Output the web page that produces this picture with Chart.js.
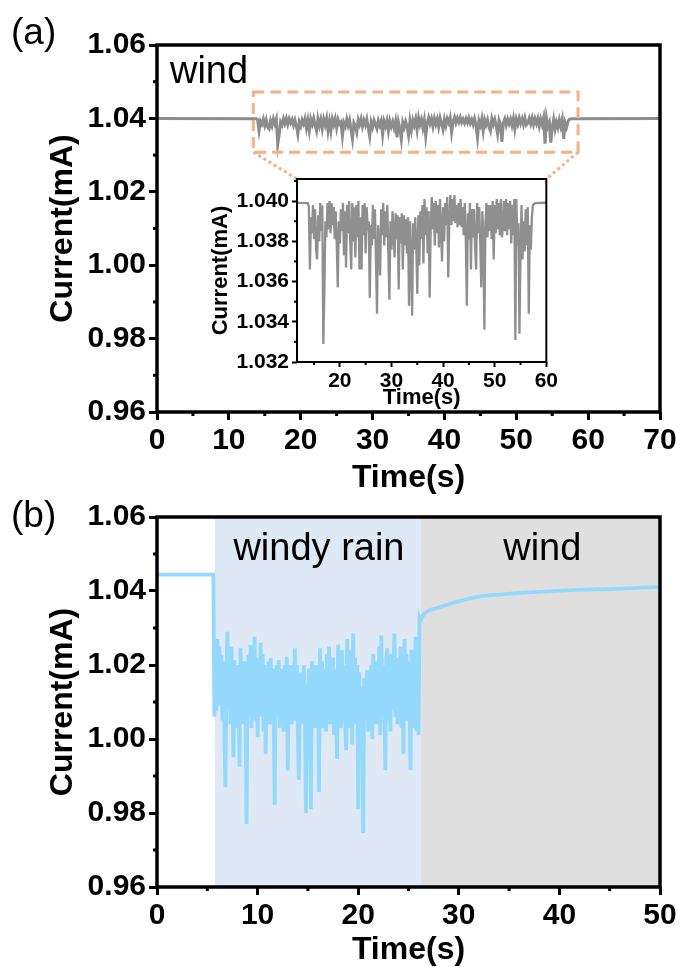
<!DOCTYPE html>
<html>
<head>
<meta charset="utf-8">
<title>Current vs time</title>
<script src="https://cdn.jsdelivr.net/npm/chart.js@4.4.1/dist/chart.umd.min.js"></script>
<style>
  body { margin: 0; background: #fff; }
  #wrap { position: relative; width: 681px; height: 967px; overflow: hidden; }
  canvas { position: absolute; }
  #chartA { left: 0; top: 0; }
  #chartB { left: 0; top: 496px; }
  #inset { left: 200px; top: 160px; }
</style>
</head>
<body>
<div id="wrap">
  <canvas id="chartA" width="681" height="496"></canvas>
  <canvas id="chartB" width="681" height="471"></canvas>
  <canvas id="inset" width="360" height="250"></canvas>
</div>
<script>
// ---------- (a) wind ----------
const aLeadTimes = [0, 13.8];
const aLeadCurrent = [1.0400, 1.0399];
const aNoiseStart = 14.0; // s, first noisy sample
const aNoiseStep = 0.2;   // s between samples
const aNoiseCurrent = [
  1.0397, 1.0366, 1.0392, 1.0384, 1.0398,
  1.0381, 1.0396, 1.0376, 1.0371, 1.0393,
  1.0380, 1.0399, 1.0385, 1.0398, 1.0329,
  1.0355, 1.0390, 1.0382, 1.0399, 1.0386,
  1.0400, 1.0384, 1.0399, 1.0388, 1.0397,
  1.0381, 1.0395, 1.0379, 1.0357, 1.0390,
  1.0379, 1.0396, 1.0385, 1.0399, 1.0373,
  1.0395, 1.0367, 1.0398, 1.0384, 1.0400,
  1.0381, 1.0366, 1.0399, 1.0380, 1.0397,
  1.0372, 1.0398, 1.0382, 1.0400, 1.0366,
  1.0392, 1.0366, 1.0398, 1.0383, 1.0399,
  1.0374, 1.0397, 1.0385, 1.0390, 1.0352,
  1.0388, 1.0378, 1.0398, 1.0381, 1.0396,
  1.0370, 1.0344, 1.0388, 1.0380, 1.0363,
  1.0396, 1.0383, 1.0399, 1.0378, 1.0395,
  1.0382, 1.0398, 1.0374, 1.0351, 1.0390,
  1.0376, 1.0395, 1.0384, 1.0372, 1.0394,
  1.0381, 1.0393, 1.0356, 1.0392, 1.0379,
  1.0394, 1.0366, 1.0393, 1.0378, 1.0391,
  1.0374, 1.0392, 1.0348, 1.0390, 1.0372,
  1.0343, 1.0389, 1.0376, 1.0392, 1.0378,
  1.0354, 1.0393, 1.0368, 1.0395, 1.0381,
  1.0398, 1.0369, 1.0401, 1.0383, 1.0397,
  1.0374, 1.0395, 1.0352, 1.0386, 1.0402,
  1.0386, 1.0399, 1.0378, 1.0400, 1.0384,
  1.0398, 1.0377, 1.0401, 1.0386, 1.0370,
  1.0397, 1.0380, 1.0399, 1.0388, 1.0402,
  1.0362, 1.0390, 1.0403, 1.0388, 1.0401,
  1.0390, 1.0403, 1.0389, 1.0398, 1.0387,
  1.0399, 1.0388, 1.0401, 1.0387, 1.0397,
  1.0383, 1.0399, 1.0381, 1.0348, 1.0394,
  1.0381, 1.0399, 1.0366, 1.0396, 1.0382,
  1.0396, 1.0377, 1.0366, 1.0399, 1.0384,
  1.0397, 1.0379, 1.0357, 1.0395, 1.0384,
  1.0336, 1.0388, 1.0399, 1.0382, 1.0398,
  1.0385, 1.0398, 1.0381, 1.0400, 1.0371,
  1.0398, 1.0384, 1.0401, 1.0386, 1.0399,
  1.0383, 1.0401, 1.0382, 1.0387, 1.0400,
  1.0385, 1.0401, 1.0383, 1.0399, 1.0386,
  1.0400, 1.0379, 1.0398, 1.0383, 1.0401,
  1.0331, 1.0401, 1.0378, 1.0389, 1.0334,
  1.0376, 1.0398, 1.0371, 1.0390, 1.0375,
  1.0396, 1.0378, 1.0397, 1.0344, 1.0388,
  1.0376, 1.0392, 1.0398
];
const aTailTimes = [57.8, 70];
const aTailCurrent = [1.0399, 1.0400];

const aXRange = [0, 70];
const aYRange = [0.96, 1.06];
const aMinorX = [5, 15, 25, 35, 45, 55, 65];
const aMinorY = [0.97, 0.99, 1.01, 1.03, 1.05];
const aZoomBox = { x: [13.4, 58.6], y: [1.0308, 1.0472] };

const insetXRange = [11.7, 60];
const insetYRange = [1.032, 1.0411];
const insetMinorX = [15, 25, 35, 45, 55];
const insetMinorY = [1.033, 1.035, 1.037, 1.039, 1.041];

// ---------- (b) windy rain, then wind ----------
const bLeadTimes = [0, 5.6];
const bLeadCurrent = [1.0444, 1.0444];
const bRainStart = 5.7;
const bRainStep = 0.1;
const bRainCurrent = [
  1.0060, 1.0265, 1.0075,
  1.0270, 1.0090, 1.0250, 1.0120, 1.0226, 1.0050, 1.0210, 1.0010, 0.9870, 1.0180,
  1.0290, 1.0080, 1.0230, 1.0040, 1.0250, 1.0100, 0.9951, 1.0213, 1.0060, 1.0200,
  1.0030, 1.0200, 0.9925, 1.0245, 1.0070, 1.0190, 1.0040, 1.0210, 1.0100, 0.9770,
  1.0150, 1.0227, 1.0060, 1.0254, 1.0030, 1.0210, 1.0080, 1.0276, 1.0050, 1.0220,
  1.0005, 1.0190, 1.0090, 1.0260, 1.0060, 1.0230, 1.0020, 1.0200, 0.9960, 1.0170,
  1.0070, 1.0210, 1.0040, 1.0218, 1.0080, 1.0190, 1.0050, 0.9822, 1.0150, 1.0200,
  1.0060, 1.0213, 1.0030, 1.0190, 1.0090, 1.0170, 1.0020, 1.0200, 1.0060, 1.0222,
  0.9915, 1.0160, 1.0070, 1.0200, 1.0040, 1.0190, 1.0080, 1.0245, 1.0050, 1.0200,
  1.0020, 0.9890, 1.0180, 1.0060, 1.0160, 1.0040, 1.0200, 1.0080, 0.9800, 1.0150,
  1.0050, 1.0190, 1.0010, 0.9810, 1.0210, 1.0070, 1.0180, 1.0030, 1.0200, 1.0090,
  1.0170, 0.9857, 1.0245, 1.0060, 1.0210, 1.0030, 1.0190, 1.0080, 1.0020, 1.0230,
  1.0060, 1.0250, 1.0040, 1.0200, 1.0090, 1.0220, 1.0010, 1.0190, 1.0050, 0.9946,
  1.0255, 1.0070, 1.0220, 1.0030, 1.0240, 1.0080, 1.0200, 1.0050, 0.9970, 1.0270,
  1.0060, 1.0210, 1.0030, 1.0240, 0.9985, 1.0285, 1.0070, 1.0220, 1.0040, 1.0200,
  0.9810, 1.0180, 1.0060, 1.0140, 1.0030, 0.9746, 1.0164, 1.0050, 1.0150, 1.0186,
  1.0020, 1.0170, 1.0070, 1.0200, 1.0000, 1.0230, 1.0060, 1.0190, 1.0040, 1.0210,
  1.0080, 1.0250, 1.0010, 1.0280, 1.0060, 1.0200, 1.0090, 0.9916, 1.0220, 1.0245,
  1.0050, 1.0210, 1.0020, 1.0230, 1.0080, 1.0190, 1.0285, 1.0060, 1.0200, 1.0040,
  1.0220, 1.0070, 1.0250, 1.0030, 1.0200, 0.9960, 1.0270, 1.0080, 1.0230, 1.0050,
  1.0210, 1.0090, 0.9916, 1.0241, 1.0060, 1.0200, 1.0030, 1.0276, 1.0020, 1.0250,
  1.0010, 1.0327, 1.0320
];
const bWindTimes = [26.3, 26.5, 26.8, 27.2, 27.7, 28.3, 29.0, 29.7, 30.4, 31.1, 31.8,
  32.5, 33.3, 34.2, 35.2, 36.3, 37.5, 38.8, 40.2, 41.7, 43.3, 45.0, 46.7, 48.4, 50.0];
const bWindCurrent = [1.0326, 1.0336, 1.0344, 1.0349, 1.0353, 1.0358, 1.0364, 1.0370, 1.0375, 1.0380, 1.0384,
  1.0387, 1.0389, 1.0391, 1.0393, 1.0395, 1.0397, 1.0399, 1.0401, 1.0403, 1.0404, 1.0405, 1.0407, 1.0409, 1.0411];

const bXRange = [0, 50];
const bYRange = [0.96, 1.06];
const bMinorX = [5, 15, 25, 35, 45];
const bMinorY = [0.97, 0.99, 1.01, 1.03, 1.05];
const bRainSpan = [5.75, 26.25];
const bWindSpan = [26.25, 50];

// ---------- helpers ----------
const FONT = '"Liberation Sans", Arial, Helvetica, sans-serif';

function pairs(times, values) {
  return times.map((t, i) => ({ x: t, y: values[i] }));
}
function sampled(start, step, values) {
  return values.map((v, i) => ({ x: Math.round((start + i * step) * 100) / 100, y: v }));
}

const aPoints = [].concat(
  pairs(aLeadTimes, aLeadCurrent),
  sampled(aNoiseStart, aNoiseStep, aNoiseCurrent),
  pairs(aTailTimes, aTailCurrent)
);
const bPoints = [].concat(
  pairs(bLeadTimes, bLeadCurrent),
  sampled(bRainStart, bRainStep, bRainCurrent),
  pairs(bWindTimes, bWindCurrent)
);

// frame around the plot + minor ticks
const framePlugin = {
  id: 'frame',
  afterDraw(chart, args, opts) {
    if (!opts || !opts.width) return;
    const { ctx, chartArea: a, scales: { x, y } } = chart;
    ctx.save();
    ctx.strokeStyle = '#000';
    ctx.lineWidth = opts.width;
    ctx.strokeRect(a.left, a.top, a.right - a.left, a.bottom - a.top);
    ctx.lineWidth = opts.tickWidth;
    (opts.minorX || []).forEach(v => {
      const px = x.getPixelForValue(v);
      ctx.beginPath();
      ctx.moveTo(px, a.bottom);
      ctx.lineTo(px, a.bottom + opts.minorLen);
      ctx.stroke();
    });
    (opts.minorY || []).forEach(v => {
      const py = y.getPixelForValue(v);
      ctx.beginPath();
      ctx.moveTo(a.left, py);
      ctx.lineTo(a.left - opts.minorLen, py);
      ctx.stroke();
    });
    ctx.restore();
  }
};

// shaded time spans behind the trace
const spansPlugin = {
  id: 'spans',
  beforeDatasetsDraw(chart, args, opts) {
    if (!opts || !opts.items) return;
    const { ctx, chartArea: a, scales: { x } } = chart;
    ctx.save();
    opts.items.forEach(s => {
      const x0 = x.getPixelForValue(s.range[0]);
      const x1 = x.getPixelForValue(s.range[1]);
      ctx.fillStyle = s.color;
      ctx.fillRect(x0, a.top, x1 - x0, a.bottom - a.top);
    });
    ctx.restore();
  }
};

// text notes: data coords inside the plot, pixel coords for the panel letter
const notesPlugin = {
  id: 'notes',
  afterDraw(chart, args, opts) {
    if (!opts || !opts.items) return;
    const { ctx, scales: { x, y } } = chart;
    ctx.save();
    ctx.fillStyle = '#000';
    ctx.textBaseline = 'alphabetic';
    opts.items.forEach(n => {
      ctx.font = n.font;
      ctx.textAlign = n.align || 'left';
      const px = n.px !== undefined ? n.px : x.getPixelForValue(n.x);
      const py = n.py !== undefined ? n.py : y.getPixelForValue(n.y);
      ctx.fillText(n.text, px, py);
    });
    ctx.restore();
  }
};

Chart.register(framePlugin, spansPlugin, notesPlugin);

function axes(cfg) {
  const tickFont = { family: FONT, size: cfg.tickSize, weight: 'bold' };
  const titleFont = { family: FONT, size: cfg.titleSize, weight: 'bold', lineHeight: 1 };
  const grid = { display: true, drawOnChartArea: false, drawTicks: true,
    tickLength: cfg.tickLen, tickWidth: cfg.tickWidth, tickColor: '#000' };
  return {
    x: {
      type: 'linear', min: cfg.xRange[0], max: cfg.xRange[1],
      afterFit: s => { s.height = cfg.xHeight; },
      ticks: { stepSize: cfg.xStep, includeBounds: false, autoSkip: false, maxRotation: 0,
        color: '#000', font: tickFont, padding: cfg.xPad },
      grid: grid, border: { display: false },
      title: { display: true, text: 'Time(s)', color: '#000', font: titleFont,
        padding: { top: 0, bottom: cfg.xTitlePad } }
    },
    y: {
      type: 'linear', min: cfg.yRange[0], max: cfg.yRange[1],
      afterFit: s => { s.width = cfg.yWidth; },
      ticks: { stepSize: cfg.yStep, includeBounds: false, autoSkip: false,
        color: '#000', font: tickFont, padding: cfg.yPad,
        callback: v => v.toFixed(cfg.yDigits) },
      grid: grid, border: { display: false },
      title: { display: true, text: 'Current(mA)', color: '#000', font: titleFont,
        padding: { top: cfg.yTitlePad, bottom: 0 } }
    }
  };
}

// ---------- inset (zoom of panel a) ----------
const insetChart = new Chart(document.getElementById('inset'), {
  type: 'line',
  data: { datasets: [{ data: aPoints, borderColor: '#8f8f8f', borderWidth: 2.3,
    pointRadius: 0, tension: 0 }] },
  options: {
    responsive: false, animation: false, events: [],
    layout: { padding: { top: 19, right: 12, left: 0, bottom: 0 } },
    plugins: {
      legend: { display: false }, tooltip: { enabled: false },
      frame: { width: 2, tickWidth: 2, minorLen: 3, minorX: insetMinorX, minorY: insetMinorY }
    },
    scales: axes({
      xRange: insetXRange, yRange: insetYRange, xStep: 10, yStep: 0.002, yDigits: 3,
      tickSize: 21, titleSize: 22, tickLen: 5, tickWidth: 2,
      xHeight: 48, yWidth: 97, xPad: 2, yPad: 3, xTitlePad: 1, yTitlePad: 10
    })
  }
});

// ---------- panel (a) ----------
const insetCanvas = document.getElementById('inset');
const zoomBoxPlugin = {
  id: 'zoomBox',
  afterDatasetsDraw(chart) {
    const { ctx, scales: { x, y } } = chart;
    const x0 = x.getPixelForValue(aZoomBox.x[0]);
    const x1 = x.getPixelForValue(aZoomBox.x[1]);
    const y0 = y.getPixelForValue(aZoomBox.y[1]);
    const y1 = y.getPixelForValue(aZoomBox.y[0]);
    const ia = insetChart.chartArea;
    const ox = insetCanvas.offsetLeft - chart.canvas.offsetLeft;
    const oy = insetCanvas.offsetTop - chart.canvas.offsetTop;
    ctx.save();
    ctx.strokeStyle = '#f4b183';
    ctx.lineWidth = 3;
    ctx.setLineDash([11, 6]);
    ctx.strokeRect(x0, y0, x1 - x0, y1 - y0);
    ctx.setLineDash([3, 3]);
    ctx.beginPath();
    ctx.moveTo(x0, y1);
    ctx.lineTo(ox + ia.left, oy + ia.top);
    ctx.moveTo(x1, y1);
    ctx.lineTo(ox + ia.right, oy + ia.top);
    ctx.stroke();
    ctx.restore();
  }
};

new Chart(document.getElementById('chartA'), {
  type: 'line',
  data: { datasets: [{ data: aPoints, borderColor: '#8c8c8c', borderWidth: 3,
    pointRadius: 0, tension: 0 }] },
  plugins: [zoomBoxPlugin],
  options: {
    responsive: false, animation: false, events: [],
    layout: { padding: { top: 45, right: 21, left: 0, bottom: 0 } },
    plugins: {
      legend: { display: false }, tooltip: { enabled: false },
      frame: { width: 3.5, tickWidth: 3, minorLen: 4, minorX: aMinorX, minorY: aMinorY },
      notes: { items: [
        { text: '(a)', px: 11, py: 44, font: '37px ' + FONT },
        { text: 'wind', x: 1.8, y: 1.0496, font: '38px ' + FONT }
      ] }
    },
    scales: axes({
      xRange: aXRange, yRange: aYRange, xStep: 10, yStep: 0.02, yDigits: 2,
      tickSize: 30, titleSize: 32, tickLen: 8, tickWidth: 3,
      xHeight: 84, yWidth: 157, xPad: 3, yPad: 3, xTitlePad: 2, yTitlePad: 47
    })
  }
});

// ---------- panel (b) ----------
new Chart(document.getElementById('chartB'), {
  type: 'line',
  data: { datasets: [{ data: bPoints, borderColor: '#94d9fc', borderWidth: 3.8,
    pointRadius: 0, tension: 0 }] },
  options: {
    responsive: false, animation: false, events: [],
    layout: { padding: { top: 21, right: 21, left: 0, bottom: 0 } },
    plugins: {
      legend: { display: false }, tooltip: { enabled: false },
      spans: { items: [
        { range: bRainSpan, color: '#dee9f5' },
        { range: bWindSpan, color: '#dfdfdf' }
      ] },
      frame: { width: 3.5, tickWidth: 3, minorLen: 4, minorX: bMinorX, minorY: bMinorY },
      notes: { items: [
        { text: '(b)', px: 11, py: 31, font: '37px ' + FONT },
        { text: 'windy rain', x: 16.1, y: 1.0484, align: 'center', font: '38px ' + FONT },
        { text: 'wind', x: 38.3, y: 1.0484, align: 'center', font: '38px ' + FONT }
      ] }
    },
    scales: axes({
      xRange: bXRange, yRange: bYRange, xStep: 10, yStep: 0.02, yDigits: 2,
      tickSize: 30, titleSize: 32, tickLen: 8, tickWidth: 3,
      xHeight: 80, yWidth: 157, xPad: 3, yPad: 3, xTitlePad: 1, yTitlePad: 47
    })
  }
});
</script>
</body>
</html>
